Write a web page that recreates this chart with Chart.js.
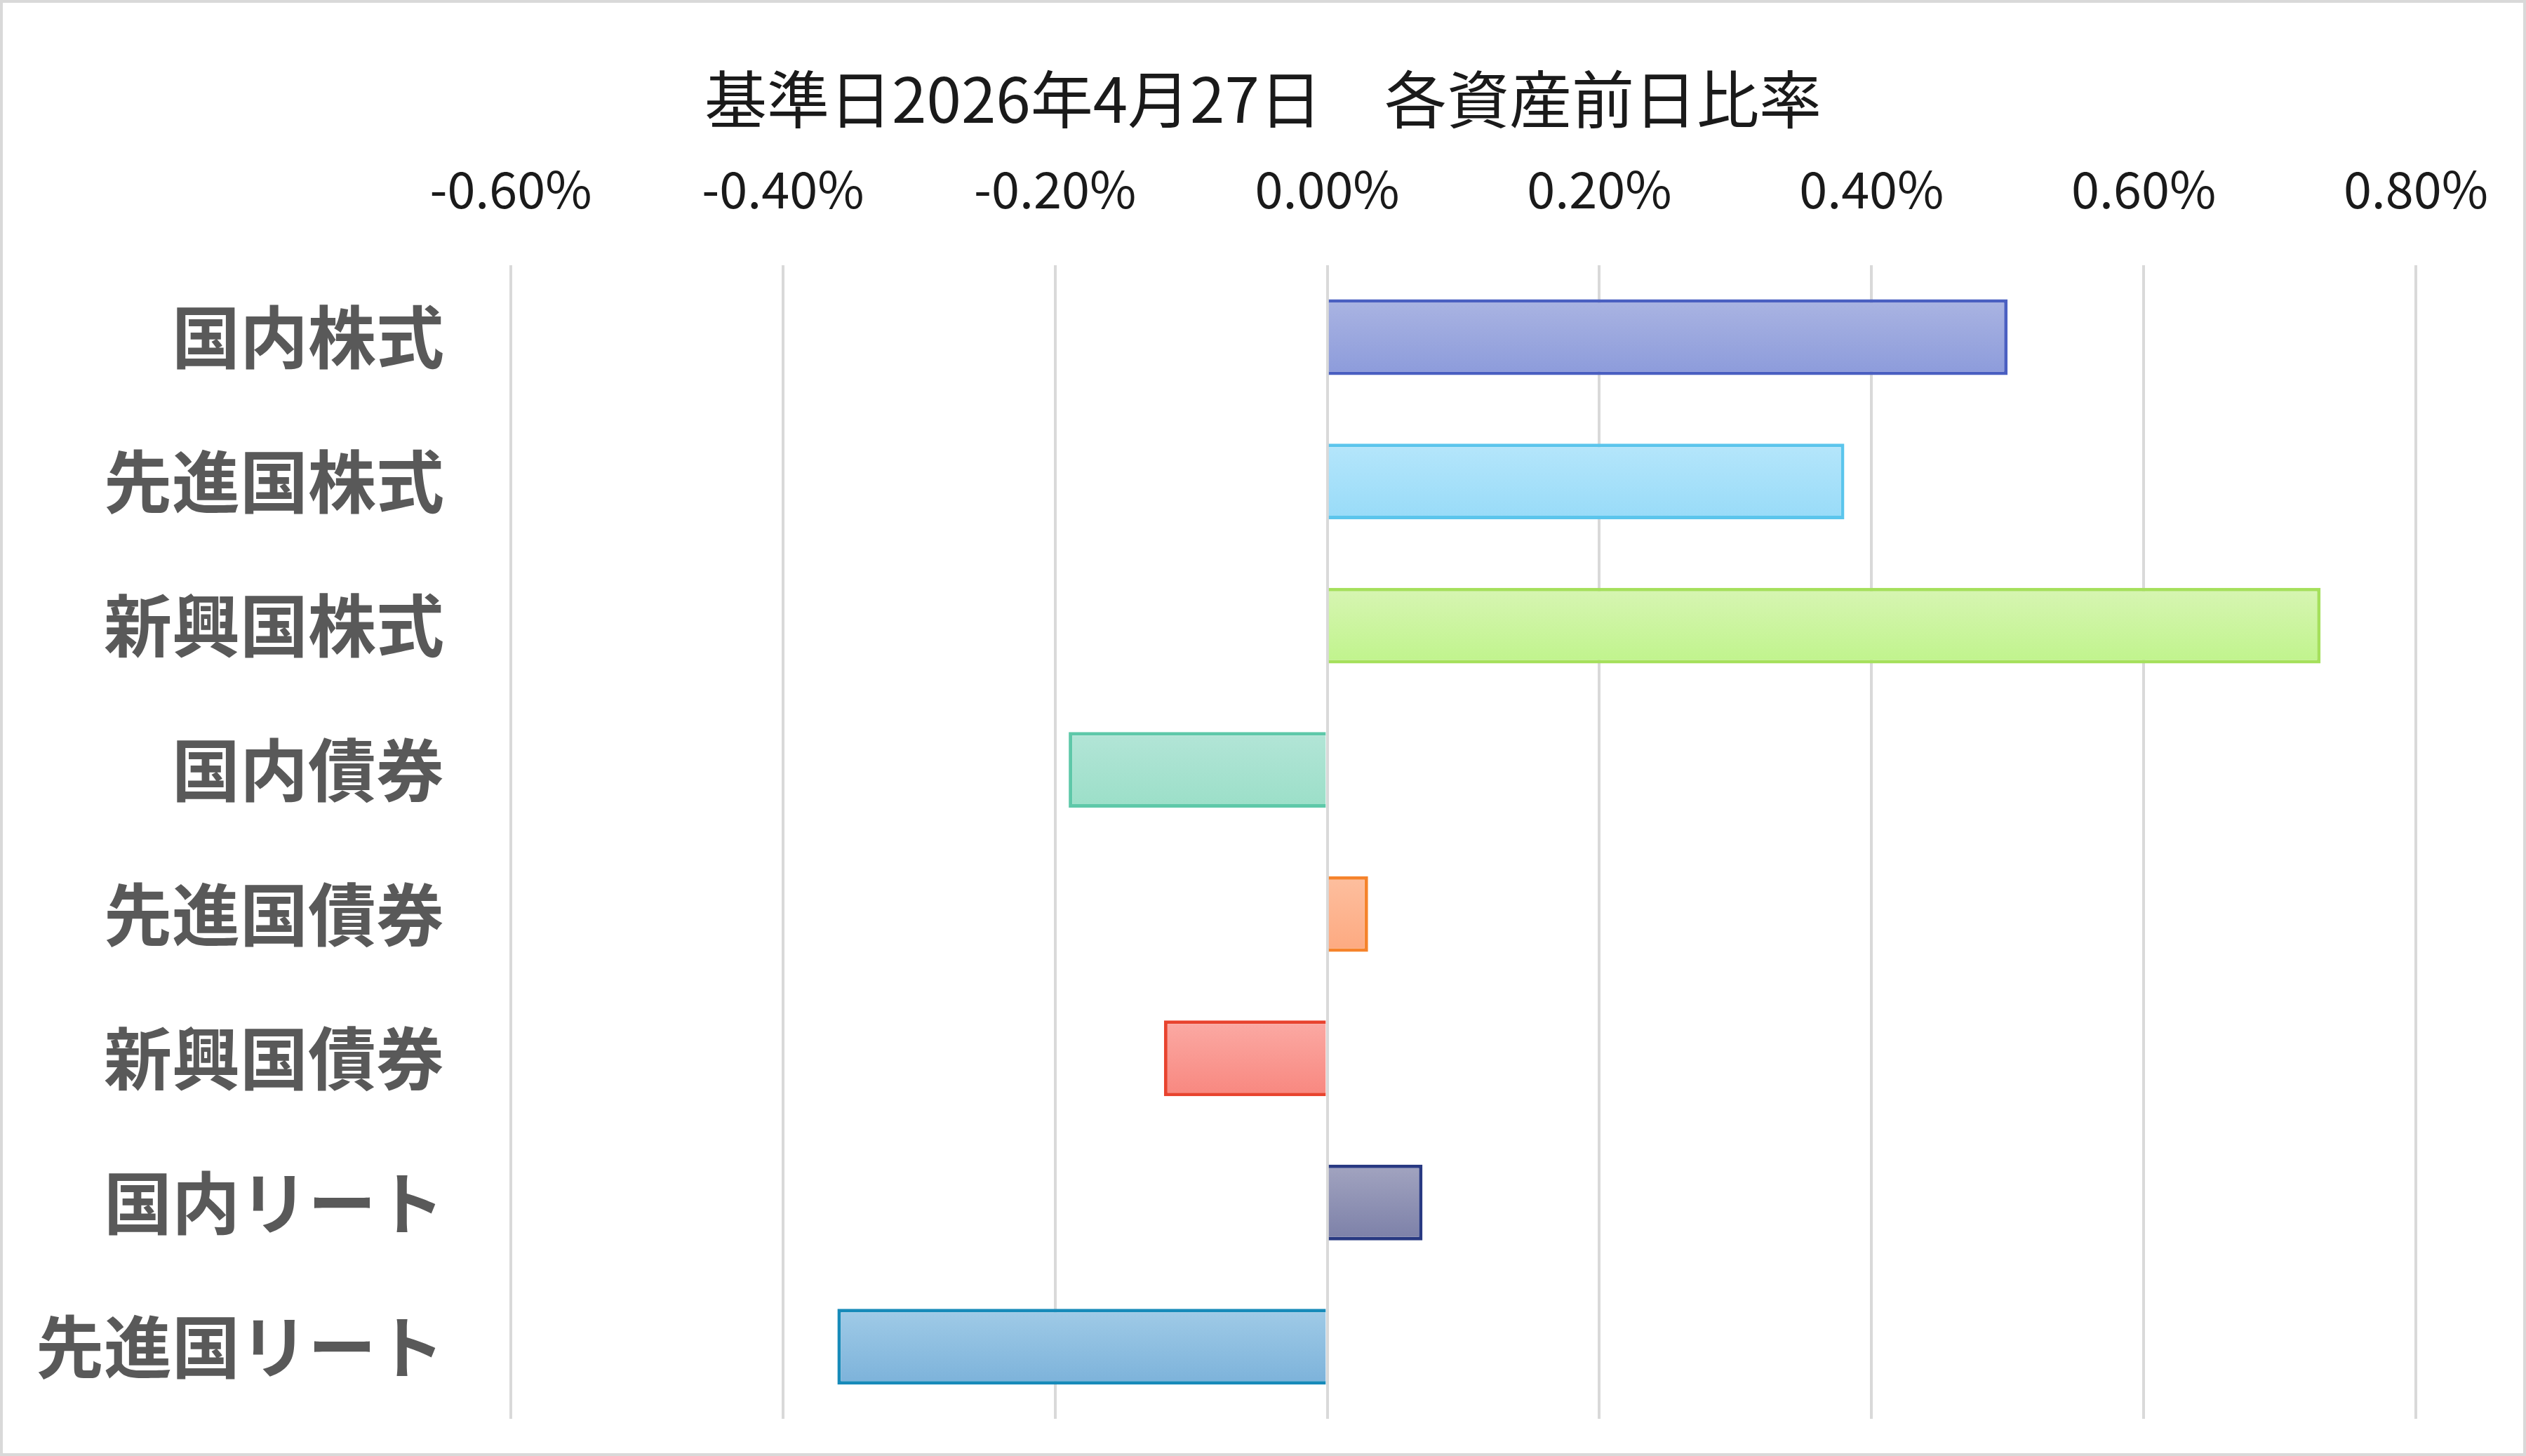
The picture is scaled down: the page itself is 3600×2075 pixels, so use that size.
<!DOCTYPE html>
<html>
<head>
<meta charset="utf-8">
<script src="https://cdn.jsdelivr.net/npm/chart.js@4/dist/chart.umd.min.js"></script>
<style>
  html, body { margin: 0; padding: 0; background: #ffffff; }
  #wrap { width: 3600px; height: 2075px; position: relative; }
</style>
</head>
<body>
<div id="wrap"><canvas id="c" width="3600" height="2075"></canvas></div>
<script>
// ---- data ----
const categories = ['国内株式', '先進国株式', '新興国株式', '国内債券', '先進国債券', '新興国債券', '国内リート', '先進国リート'];
const values = [0.50, 0.38, 0.73, -0.19, 0.03, -0.12, 0.07, -0.36]; // percent
const tickLabels = ['-0.60%', '-0.40%', '-0.20%', '0.00%', '0.20%', '0.40%', '0.60%', '0.80%'];
const titleText = '基準日2026年4月27日　各資産前日比率';

// ---- styles ----
const borderColors = ['#4a5fc1', '#5bc5ec', '#a5e05c', '#5ec8a9', '#f5832b', '#e8432e', '#283982', '#168ab9'];
const fillTop =      ['#aab4e2', '#b5e6fb', '#d7f5b3', '#b3e5d7', '#fdbf9f', '#fbaaa4', '#a2a4c0', '#a0cbe7'];
const fillBottom =   ['#8c9bdb', '#98dbf8', '#c0f48c', '#9bdfc8', '#fda980', '#f8877f', '#7c80a8', '#7cb2da'];
const BAR_PCT = 0.525;

function barFill(ctx) {
  const chart = ctx.chart;
  const i = ctx.dataIndex;
  const area = chart.chartArea;
  const ys = chart.scales && chart.scales.y;
  if (!area || !ys || i === undefined) return fillTop[i || 0];
  const center = ys.getPixelForValue(i);
  const half = (area.bottom - area.top) / categories.length * BAR_PCT / 2;
  const g = chart.ctx.createLinearGradient(0, center - half, 0, center + half);
  g.addColorStop(0, fillTop[i]);
  g.addColorStop(1, fillBottom[i]);
  return g;
}

function noPad(s) {
  s.paddingTop = 0; s.paddingBottom = 0; s.paddingLeft = 0; s.paddingRight = 0;
}

const framePlugin = {
  id: 'frame',
  beforeDraw(chart) {
    const c = chart.ctx;
    c.save();
    c.fillStyle = '#ffffff';
    c.fillRect(0, 0, chart.width, chart.height);
    c.restore();
  },
  afterDraw(chart) {
    const c = chart.ctx;
    c.save();
    c.strokeStyle = '#d9d9d9';
    c.lineWidth = 4;
    c.strokeRect(2, 2, chart.width - 4, chart.height - 4);
    c.restore();
  }
};

new Chart(document.getElementById('c'), {
  type: 'bar',
  data: {
    labels: categories,
    datasets: [{
      data: values,
      backgroundColor: barFill,
      borderColor: borderColors,
      borderWidth: 5,
      borderSkipped: 'start',
      barPercentage: BAR_PCT,
      categoryPercentage: 1.0
    }]
  },
  options: {
    indexAxis: 'y',
    responsive: false,
    animation: false,
    devicePixelRatio: 1,
    layout: { padding: { left: 0, right: 0, top: 0, bottom: 53 } },
    plugins: {
      legend: { display: false },
      tooltip: { enabled: false },
      title: {
        display: true,
        text: titleText,
        color: '#1a1a1a',
        font: { family: '"Noto Sans CJK JP"', size: 89, weight: 'normal', lineHeight: 1.2 },
        padding: { top: 88, bottom: 10 }
      }
    },
    scales: {
      x: {
        type: 'linear',
        position: 'top',
        min: -0.6,
        max: 0.8,
        ticks: {
          stepSize: 0.2,
          color: '#1a1a1a',
          padding: 65,
          font: { family: '"Noto Sans CJK JP"', size: 72, lineHeight: 1.2 },
          callback: (v, idx) => tickLabels[idx]
        },
        grid: { color: '#d9d9d9', lineWidth: 4, drawTicks: false },
        border: { display: false },
        afterFit: s => { s.height = 173; noPad(s); }
      },
      y: {
        type: 'category',
        position: 'left',
        ticks: {
          color: '#595959',
          padding: 95,
          font: { family: '"Noto Sans CJK JP"', size: 97, weight: 'bold', lineHeight: 1.2 }
        },
        grid: { display: false, drawTicks: false },
        border: { display: false },
        afterFit: s => { s.width = 728; noPad(s); }
      },
      yRight: {
        type: 'linear',
        position: 'right',
        display: true,
        ticks: { display: false },
        grid: { display: false, drawTicks: false },
        border: { display: false },
        afterFit: s => { s.width = 157; noPad(s); }
      }
    }
  },
  plugins: [framePlugin]
});
</script>
</body>
</html>
